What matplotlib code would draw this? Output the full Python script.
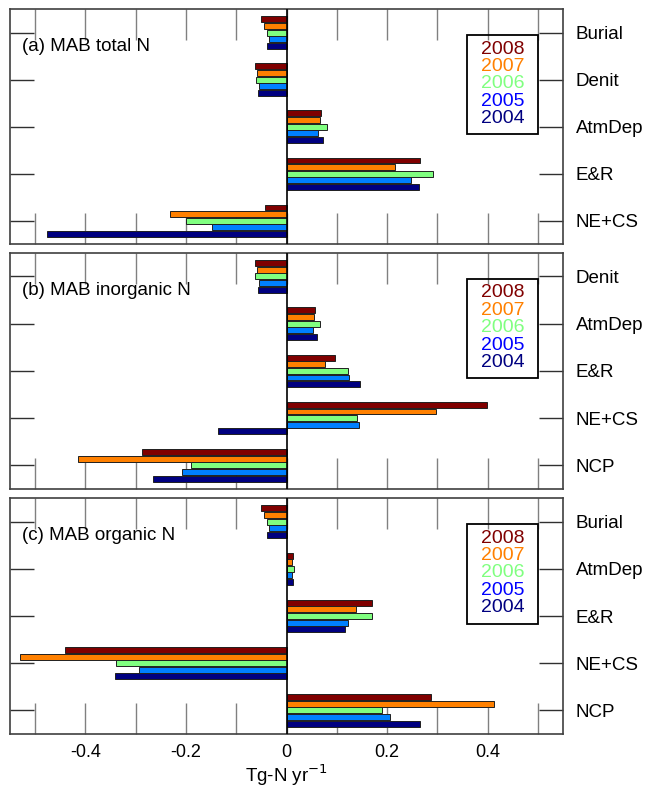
import numpy as np
import matplotlib
matplotlib.use('Agg')
import matplotlib.pyplot as plt
from matplotlib.patches import Rectangle
from matplotlib.ticker import MultipleLocator, FuncFormatter

plt.rcParams['font.family'] = ['Liberation Sans', 'DejaVu Sans']
plt.rcParams['axes.unicode_minus'] = False

years = ['2008', '2007', '2006', '2005', '2004']
bar_colors = ['#800000', '#ff8000', '#80ff80', '#0080ff', '#000080']
text_colors = ['#800000', '#ff8000', '#80ff80', '#0000ff', '#000080']

# values per year (rows: 2008..2004), columns follow the category list
total_cats = ['Burial', 'Denit', 'AtmDep', 'E&R', 'NE+CS']
total_vals = [
    [-0.050, -0.062, 0.069, 0.266, -0.043],
    [-0.045, -0.058, 0.067, 0.215, -0.231],
    [-0.039, -0.061, 0.080, 0.292, -0.199],
    [-0.035, -0.055, 0.063, 0.247, -0.149],
    [-0.038, -0.056, 0.073, 0.263, -0.477],
]

inorg_cats = ['Denit', 'AtmDep', 'E&R', 'NE+CS', 'NCP']
inorg_vals = [
    [-0.062, 0.057, 0.097, 0.398, -0.288],
    [-0.058, 0.055, 0.076, 0.298, -0.414],
    [-0.062, 0.066, 0.123, 0.141, -0.190],
    [-0.055, 0.053, 0.125, 0.145, -0.207],
    [-0.056, 0.060, 0.147, -0.137, -0.265],
]

org_cats = ['Burial', 'AtmDep', 'E&R', 'NE+CS', 'NCP']
org_vals = [
    [-0.050, 0.012, 0.170, -0.440, 0.288],
    [-0.045, 0.011, 0.139, -0.530, 0.413],
    [-0.039, 0.015, 0.170, -0.340, 0.190],
    [-0.035, 0.011, 0.122, -0.293, 0.206],
    [-0.038, 0.013, 0.116, -0.342, 0.265],
]

panels = [
    ('(a) MAB total N', total_cats, total_vals, [0.0155, 0.691, 0.856, 0.2975]),
    ('(b) MAB inorganic N', inorg_cats, inorg_vals, [0.0155, 0.381, 0.856, 0.299]),
    ('(c) MAB organic N', org_cats, org_vals, [0.0155, 0.0709, 0.856, 0.2987]),
]

fig = plt.figure(figsize=(6.46, 7.90), dpi=100)

slot = 0.14
for k, (title, cats, vals, rect) in enumerate(panels):
    ax = fig.add_axes(rect)
    y = np.arange(len(cats))
    for i, yr in enumerate(years):
        ax.barh(y + (i - 2) * slot, vals[i], height=0.125, color=bar_colors[i],
                edgecolor='#202020', linewidth=0.7, zorder=3)
    ax.axvline(0, color='black', lw=1.2, zorder=4)

    ax.set_xlim(-0.55, 0.55)
    ax.set_ylim(len(cats) - 0.5, -0.5)
    ax.set_yticks(y)
    ax.set_yticklabels(cats)
    ax.tick_params(axis='y', left=True, right=True, labelleft=False, labelright=True,
                   direction='in', length=17, width=1, color='#303030', pad=9, labelsize=13.5)

    ax.xaxis.set_major_locator(MultipleLocator(0.2))
    ax.xaxis.set_minor_locator(MultipleLocator(0.1))
    ax.xaxis.set_major_formatter(FuncFormatter(lambda v, p: '0' if abs(v) < 1e-9 else '%g' % v))
    ax.tick_params(axis='x', which='both', top=True, bottom=True, direction='in',
                   length=22, width=1, color='#808080', labelsize=13, pad=7)
    if k < 2:
        ax.tick_params(axis='x', which='both', labelbottom=False)
    else:
        ax.set_xlabel('Tg-N yr$^{-1}$', fontsize=13.5, labelpad=1)

    for s in ax.spines.values():
        s.set_color('#404040')
        s.set_linewidth(1.2)

    ax.text(0.022, 0.84, title, transform=ax.transAxes, fontsize=13.5, va='center', ha='left')

    # legend box
    ax.add_patch(Rectangle((0.826, 0.468), 0.129, 0.421, transform=ax.transAxes,
                           fill=False, edgecolor='black', lw=1.3, zorder=5))
    for i, yr in enumerate(years):
        ax.text(0.891, 0.830 - i * 0.0738, yr, transform=ax.transAxes, color=text_colors[i],
                fontsize=14, ha='center', va='center', zorder=6)

fig.savefig('out.png', dpi=100)
